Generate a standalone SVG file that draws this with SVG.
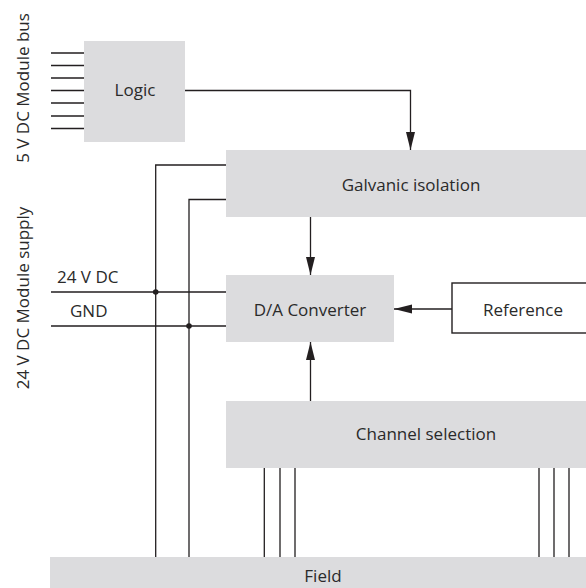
<svg xmlns="http://www.w3.org/2000/svg" width="586" height="588" viewBox="0 0 586 588">
<style>
.box{fill:#dcdcde;}
.ref{fill:#ffffff;stroke:#231f20;stroke-width:1.4;}
.ln{fill:none;stroke:#231f20;stroke-width:1.3;}
.t{font-family:"Open Sans","Liberation Sans",Arial,sans-serif;font-size:17px;fill:#2a2a2a;}
.m{text-anchor:middle;}
</style>
<defs>
<marker id="ah" markerUnits="userSpaceOnUse" markerWidth="20" markerHeight="10" refX="18" refY="4.5" orient="auto">
<path d="M0,0 L18,4.5 L0,9 Z" fill="#231f20"/>
</marker>
</defs>
<rect width="586" height="588" fill="#ffffff"/>
<text class="t m" transform="translate(29,88) rotate(-90)">5 V DC Module bus</text>
<text class="t m" transform="translate(29,298) rotate(-90)">24 V DC Module supply</text>
<g id="logic">
<rect class="box" x="84" y="41" width="101" height="101"/>
<text class="t m" x="135" y="96">Logic</text>
</g>
<g id="galvanic">
<rect class="box" x="226" y="150" width="360" height="67"/>
<text class="t m" x="411" y="191">Galvanic isolation</text>
</g>
<g id="da">
<rect class="box" x="226" y="275" width="168" height="67"/>
<text class="t m" x="310" y="316">D/A Converter</text>
</g>
<g id="reference">
<rect class="ref" x="452" y="283" width="140" height="50"/>
<text class="t m" x="523" y="316">Reference</text>
</g>
<g id="channel">
<rect class="box" x="226" y="401" width="360" height="67"/>
<text class="t m" x="426" y="440">Channel selection</text>
</g>
<g id="field">
<rect class="box" x="50" y="557" width="536" height="31"/>
<text class="t m" x="323" y="582">Field</text>
</g>
<g id="labels">
<text class="t" x="57" y="283">24 V DC</text>
<text class="t" x="70" y="317">GND</text>
</g>
<g id="connectors">
<path class="ln" d="M51,53H84M51,65.5H84M51,78H84M51,90.5H84M51,103H84M51,116H84M51,128.5H84"/>
<path class="ln" d="M185,90.5H410.5V150" marker-end="url(#ah)"/>
<path class="ln" d="M310.5,217V275" marker-end="url(#ah)"/>
<path class="ln" d="M452,309H394" marker-end="url(#ah)"/>
<path class="ln" d="M310.5,401V342" marker-end="url(#ah)"/>
<path class="ln" d="M226,165H155.7V557M226,199.5H189V557"/>
<path class="ln" d="M51,292H226M51,326H226"/>
<circle cx="155.7" cy="292" r="2.8" fill="#231f20"/>
<circle cx="189" cy="326" r="2.8" fill="#231f20"/>
<path class="ln" d="M264.3,468V557M280,468V557M295,468V557M539,468V557M554,468V557M569,468V557"/>
</g>
</svg>
